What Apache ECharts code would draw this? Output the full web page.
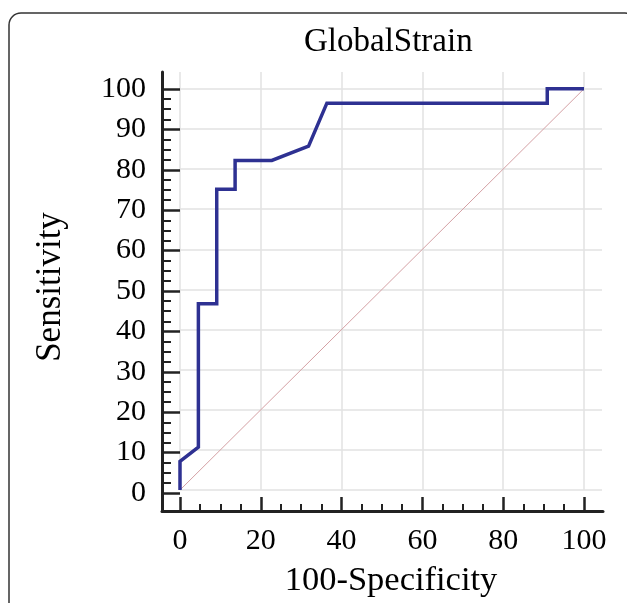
<!DOCTYPE html>
<html>
<head>
<meta charset="utf-8">
<script src="https://cdn.jsdelivr.net/npm/echarts@6/dist/echarts.min.js"></script>
<style>html,body{margin:0;padding:0;background:#fff}#c{width:627px;height:603px}</style>
</head>
<body>
<div id="c"></div>
<script>
// ROC curve points (100-Specificity, Sensitivity)
const fpr  = [0, 0, 4.55, 4.55, 9.09, 9.09, 13.64, 13.64, 22.73, 31.82, 36.36, 90.91, 90.91, 100];
const sens = [0, 7.14, 10.71, 46.43, 46.43, 75, 75, 82.14, 82.14, 85.71, 96.43, 96.43, 100, 100];
// reference diagonal
const diagX = [0, 100];
const diagY = [0, 100];
// tick labels / tick positions
const xTicks = [0, 20, 40, 60, 80, 100];
const yTicks = [0, 10, 20, 30, 40, 50, 60, 70, 80, 90, 100];
const xMinor = [5, 10, 15, 25, 30, 35, 45, 50, 55, 65, 70, 75, 85, 90, 95];
const yMinor = [2.5, 5, 7.5, 12.5, 15, 17.5, 22.5, 25, 27.5, 32.5, 35, 37.5, 42.5, 45, 47.5,
                52.5, 55, 57.5, 62.5, 65, 67.5, 72.5, 75, 77.5, 82.5, 85, 87.5, 92.5, 95, 97.5];
const titleText = 'GlobalStrain';
const xName = '100-Specificity';
const yName = 'Sensitivity';

const FONT = 'Liberation Serif';
const AX = '#222222';
// plot area (grid 0) extends a little beyond 100 on both axes
const X_MAX = 104.46, Y_MAX = 104.2;
// axis frame (grid 1) starts 18px before 0 on both axes
const F_MIN = -4.455, FX_MAX = 104.70, FY_MAX = 104.21;

const chart = echarts.init(document.getElementById('c'), null, {renderer: 'canvas'});
const rocData = fpr.map((v, i) => [v, sens[i]]);
const diagData = diagX.map((v, i) => [v, diagY[i]]);

chart.setOption({
  animation: false,
  backgroundColor: '#fff',
  graphic: [{
    type: 'rect', silent: true, z: -10,
    shape: {x: 9, y: 13, width: 628, height: 700, r: 12},
    style: {fill: 'none', stroke: '#333', lineWidth: 1.5}
  }],
  title: {
    text: titleText, left: 304, top: 26, padding: 0,
    textStyle: {fontFamily: FONT, fontSize: 33, fontWeight: 'normal', color: '#000'}
  },
  grid: [
    {left: 180, top: 72, right: 25, bottom: 110},
    {left: 162, top: 72, right: 24, bottom: 92}
  ],
  xAxis: [
    {
      gridIndex: 0, type: 'value', min: 0, max: X_MAX, interval: 20, position: 'bottom',
      axisLine: {show: false, onZero: false}, axisTick: {show: false}, axisLabel: {show: false},
      splitLine: {show: true, showMaxLine: false, lineStyle: {color: '#e2e2e2', width: 1.5}},
      name: xName, nameLocation: 'middle', nameGap: 73,
      nameTextStyle: {fontFamily: FONT, fontSize: 34.5, color: '#000'}
    },
    {
      gridIndex: 1, type: 'value', min: F_MIN, max: FX_MAX, position: 'bottom',
      axisLine: {show: true, onZero: false, lineStyle: {color: AX, width: 3}},
      axisTick: {show: true, inside: true, length: 14, customValues: xTicks, lineStyle: {color: AX, width: 2.5}},
      minorTick: {show: false},
      axisLabel: {show: true, customValues: xTicks, margin: 15, fontFamily: FONT, fontSize: 30, color: '#000'},
      splitLine: {show: false}
    },
    {
      gridIndex: 1, type: 'value', min: F_MIN, max: FX_MAX, position: 'bottom',
      axisLine: {show: false, onZero: false},
      axisTick: {show: true, inside: true, length: 7, customValues: xMinor, lineStyle: {color: AX, width: 2}},
      axisLabel: {show: false}, splitLine: {show: false}
    }
  ],
  yAxis: [
    {
      gridIndex: 0, type: 'value', min: 0, max: Y_MAX, interval: 10, position: 'left',
      axisLine: {show: false, onZero: false}, axisTick: {show: false}, axisLabel: {show: false},
      splitLine: {show: true, showMaxLine: false, lineStyle: {color: '#e2e2e2', width: 1.5}},
      name: yName, nameLocation: 'middle', nameGap: 112,
      nameTextStyle: {fontFamily: FONT, fontSize: 35, color: '#000', padding: [0, 12, 0, 0]}
    },
    {
      gridIndex: 1, type: 'value', min: F_MIN, max: FY_MAX, position: 'left',
      axisLine: {show: true, onZero: false, lineStyle: {color: AX, width: 3}},
      axisTick: {show: true, inside: true, length: 18, customValues: yTicks, lineStyle: {color: AX, width: 2.5}},
      minorTick: {show: false},
      axisLabel: {show: true, customValues: yTicks, margin: 16, fontFamily: FONT, fontSize: 30, color: '#000'},
      splitLine: {show: false}
    },
    {
      gridIndex: 1, type: 'value', min: F_MIN, max: FY_MAX, position: 'left',
      axisLine: {show: false, onZero: false},
      axisTick: {show: true, inside: true, length: 9, customValues: yMinor, lineStyle: {color: AX, width: 2}},
      axisLabel: {show: false}, splitLine: {show: false}
    }
  ],
  series: [
    {
      type: 'line', xAxisIndex: 0, yAxisIndex: 0, data: diagData,
      showSymbol: false, silent: true, z: 2,
      lineStyle: {color: '#d4a0a4', width: 1}
    },
    {
      type: 'line', xAxisIndex: 0, yAxisIndex: 0, data: rocData,
      showSymbol: false, silent: true, z: 3,
      lineStyle: {color: '#2e3192', width: 3.5, join: 'miter'}
    }
  ]
});
</script>
</body>
</html>
